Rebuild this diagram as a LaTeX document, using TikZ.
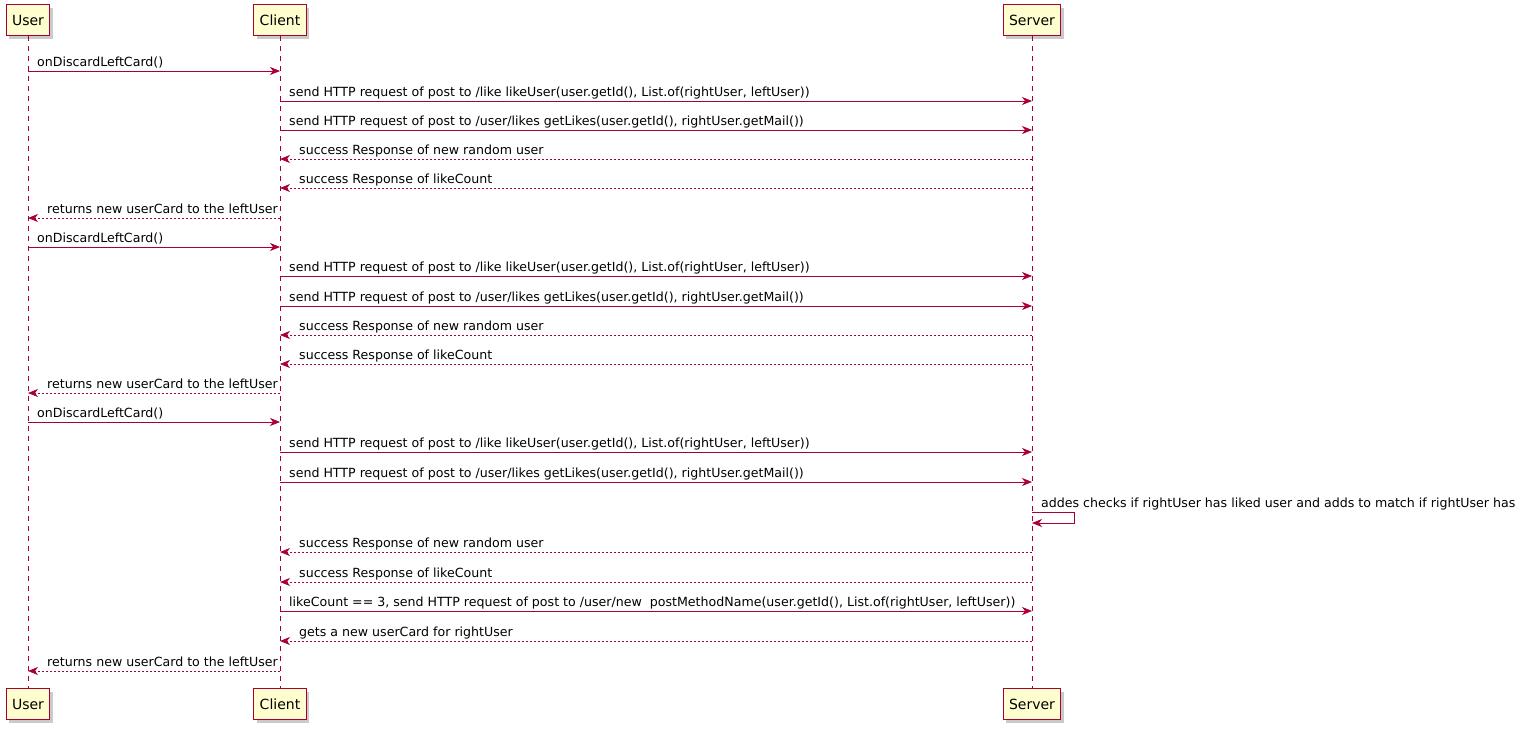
\documentclass[tikz,border=0pt]{standalone}
\usepackage{fontspec}
\setmainfont{DejaVu Sans}
\usetikzlibrary{arrows.meta,shadows}
\definecolor{umlred}{HTML}{A80036}
\definecolor{umlfill}{HTML}{FEFECE}

\begin{document}
\begin{tikzpicture}[
    x=1pt, y=-1pt,
    actor/.style={rectangle, draw=umlred, fill=umlfill, line width=1pt, minimum height=31pt, inner xsep=6pt, font=\fontsize{14}{16}\selectfont, drop shadow={shadow xshift=3pt, shadow yshift=-3pt, fill=black!35, opacity=0.6}},
    lifeline/.style={umlred, dash pattern=on 5pt off 5pt, line width=0.7pt},
    msg/.style={-{Stealth[length=10pt, width=8pt, inset=3pt]}, umlred, line width=0.8pt},
    reply/.style={msg, dash pattern=on 2pt off 2pt},
    lbl/.style={anchor=base west, inner sep=0pt, font=\fontsize{12.6}{14}\selectfont}
]
\useasboundingbox (0,0) rectangle (1520,731);

% Participants
\node[actor] (usertop) at (28,20) {User};
\node[actor] (clienttop) at (280,20) {Client};
\node[actor] (servertop) at (1032,20) {Server};
\node[actor] (userbot) at (28,704) {User};
\node[actor] (clientbot) at (280,704) {Client};
\node[actor] (serverbot) at (1032,704) {Server};

% Lifelines
\draw[lifeline] (usertop.south) -- (userbot.north);
\draw[lifeline] (clienttop.south) -- (clientbot.north);
\draw[lifeline] (servertop.south) -- (serverbot.north);

% First discard
\node[lbl] (m1) at (37,66) {onDiscardLeftCard()};
\draw[msg] (usertop |- 0,71) -- (clienttop |- 0,71);
\node[lbl] (m2) at (289,96) {send HTTP request of post to /like likeUser(user.getId(), List.of(rightUser, leftUser))};
\draw[msg] (clienttop |- 0,101) -- (servertop |- 0,101);
\node[lbl] (m3) at (289,125) {send HTTP request of post to /user/likes getLikes(user.getId(), rightUser.getMail())};
\draw[msg] (clienttop |- 0,130) -- (servertop |- 0,130);
\node[lbl] (m4) at (299,154) {success Response of new random user};
\draw[reply] (servertop |- 0,159) -- (clienttop |- 0,159);
\node[lbl] (m5) at (299,183) {success Response of likeCount};
\draw[reply] (servertop |- 0,188) -- (clienttop |- 0,188);
\node[lbl] (m6) at (47,213) {returns new userCard to the leftUser};
\draw[reply] (clienttop |- 0,218) -- (usertop |- 0,218);

% Second discard
\node[lbl] (m7) at (37,242) {onDiscardLeftCard()};
\draw[msg] (usertop |- 0,247) -- (clienttop |- 0,247);
\node[lbl] (m8) at (289,271) {send HTTP request of post to /like likeUser(user.getId(), List.of(rightUser, leftUser))};
\draw[msg] (clienttop |- 0,276) -- (servertop |- 0,276);
\node[lbl] (m9) at (289,301) {send HTTP request of post to /user/likes getLikes(user.getId(), rightUser.getMail())};
\draw[msg] (clienttop |- 0,306) -- (servertop |- 0,306);
\node[lbl] (m10) at (299,330) {success Response of new random user};
\draw[reply] (servertop |- 0,335) -- (clienttop |- 0,335);
\node[lbl] (m11) at (299,359) {success Response of likeCount};
\draw[reply] (servertop |- 0,364) -- (clienttop |- 0,364);
\node[lbl] (m12) at (47,388) {returns new userCard to the leftUser};
\draw[reply] (clienttop |- 0,393) -- (usertop |- 0,393);

% Third discard, match
\node[lbl] (m13) at (37,417) {onDiscardLeftCard()};
\draw[msg] (usertop |- 0,422) -- (clienttop |- 0,422);
\node[lbl] (m14) at (289,447) {send HTTP request of post to /like likeUser(user.getId(), List.of(rightUser, leftUser))};
\draw[msg] (clienttop |- 0,452) -- (servertop |- 0,452);
\node[lbl] (m15) at (289,477) {send HTTP request of post to /user/likes getLikes(user.getId(), rightUser.getMail())};
\draw[msg] (clienttop |- 0,482) -- (servertop |- 0,482);
\node[lbl] (m16) at (1041,507) {addes checks if rightUser has liked user and adds to match if rightUser has};
\draw[msg] (servertop |- 0,512) -- ++(42,0) -- ++(0,11) -- (servertop |- 0,523);
\node[lbl] (m17) at (299,547) {success Response of new random user};
\draw[reply] (servertop |- 0,552) -- (clienttop |- 0,552);
\node[lbl] (m18) at (299,577) {success Response of likeCount};
\draw[reply] (servertop |- 0,582) -- (clienttop |- 0,582);
\node[lbl] (m19) at (289,606) {likeCount == 3, send HTTP request of post to /user/new\ \ postMethodName(user.getId(), List.of(rightUser, leftUser))};
\draw[msg] (clienttop |- 0,611) -- (servertop |- 0,611);
\node[lbl] (m20) at (299,636) {gets a new userCard for rightUser};
\draw[reply] (servertop |- 0,641) -- (clienttop |- 0,641);
\node[lbl] (m21) at (47,666) {returns new userCard to the leftUser};
\draw[reply] (clienttop |- 0,671) -- (usertop |- 0,671);

\end{tikzpicture}
\end{document}
